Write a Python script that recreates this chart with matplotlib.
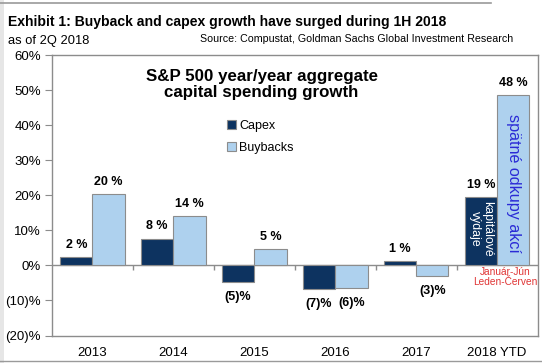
import matplotlib
matplotlib.use("Agg")
import matplotlib.pyplot as plt
from matplotlib.patches import Rectangle
from matplotlib.lines import Line2D
import numpy as np

plt.rcParams['font.family'] = ['Liberation Sans', 'DejaVu Sans']

categories = ["2013", "2014", "2015", "2016", "2017", "2018 YTD"]
capex = [2.4, 7.6, -4.8, -6.7, 1.3, 19.4]
buybacks = [20.4, 14.0, 4.7, -6.4, -3.0, 48.5]
capex_labels = ["2 %", "8 %", "(5)%", "(7)%", "1 %", "19 %"]
buyback_labels = ["20 %", "14 %", "5 %", "(6)%", "(3)%", "48 %"]
yticks = [-20, -10, 0, 10, 20, 30, 40, 50, 60]
ytick_labels = ["(20)%", "(10)%", "0%", "10%", "20%", "30%", "40%", "50%", "60%"]

C_CAPEX = "#0d3360"
C_BUY = "#aed1ee"
EDGE = "#8c8c8c"

fig = plt.figure(figsize=(5.42, 3.63), dpi=100)
fig.patch.set_facecolor("white")
# left gray strip
fig.patches.append(Rectangle((0, 0), 4 / 542, 1, transform=fig.transFigure,
                             facecolor="#e6e6e6", edgecolor="none", zorder=0))
fig.lines.append(Line2D([0, 491 / 542], [1 - 3 / 363] * 2, transform=fig.transFigure,
                        color="#9a9a9a", lw=1.2))
fig.lines.append(Line2D([0, 1], [1 - 361 / 363] * 2, transform=fig.transFigure,
                        color="#9a9a9a", lw=1.0))

fig.text(8 / 542, 1 - 22 / 363, "Exhibit 1: Buyback and capex growth have surged during 1H 2018",
         fontsize=10.05, fontweight="bold", va="center", ha="left")
fig.text(8 / 542, 1 - 41 / 363, "as of 2Q 2018", fontsize=9.3, va="center", ha="left")
fig.text(513 / 542, 1 - 39 / 363, "Source: Compustat, Goldman Sachs Global Investment Research",
         fontsize=7.7, va="center", ha="right")

ax = fig.add_axes([52 / 542, 1 - 335.5 / 363, (537.5 - 52) / 542, (335.5 - 55) / 363])
x = np.arange(len(categories))
w = 0.4
ax.bar(x - w / 2, capex, w, color=C_CAPEX, edgecolor=EDGE, linewidth=0.8, label="Capex", zorder=2)
ax.bar(x + w / 2, buybacks, w, color=C_BUY, edgecolor=EDGE, linewidth=0.8, label="Buybacks", zorder=2)

ax.set_xlim(-0.5, len(categories) - 0.5)
ax.set_ylim(-20, 60)
ax.set_yticks(yticks)
ax.set_yticklabels(ytick_labels, fontsize=9.5)
ax.set_xticks(x)
ax.set_xticklabels(categories, fontsize=9.5)
ax.tick_params(axis="x", length=0, pad=8)
ax.tick_params(axis="y", length=5, color=EDGE, pad=3)
for s in ax.spines.values():
    s.set_color(EDGE)
    s.set_linewidth(1.0)

ax.axhline(0, color=EDGE, lw=1.0, zorder=1)
ax.vlines(np.arange(len(categories) - 1) + 0.5, -1.3, 0, color=EDGE, lw=1.0, zorder=1)

for i in range(len(categories)):
    for val, lab, dx in ((capex[i], capex_labels[i], -w / 2), (buybacks[i], buyback_labels[i], w / 2)):
        if val >= 0:
            ax.text(i + dx, val + 1.8, lab, ha="center", va="bottom", fontsize=9, fontweight="bold")
        else:
            ax.text(i + dx, val - 2.5, lab, ha="center", va="top", fontsize=9, fontweight="bold")

ax.text(2.09, 51.5, "S&P 500 year/year aggregate\ncapital spending growth", ha="center", va="center",
        fontsize=12.2, fontweight="bold", linespacing=1.1)

ax.legend(loc="upper left", bbox_to_anchor=(0.337, 0.81), frameon=False, fontsize=9,
          handlelength=0.7, handleheight=0.7, handletextpad=0.3, labelspacing=0.85)

ax.text(5 - w / 2, 10.3, "kapitálové\nvýdaje", rotation=270, color="white", ha="center", va="center",
        fontsize=8.8, linespacing=0.95)
ax.text(5 + w / 2, 23.5, "spätné odkupy akcí", rotation=270, color="#2a2ad6", ha="center", va="center",
        fontsize=11.6)
ax.text(5.1, -3.4, "Január-Jún\nLeden-Červen", color="#e03535", ha="center", va="center",
        fontsize=7.3, linespacing=1.0)

fig.savefig("out.png", dpi=100)
